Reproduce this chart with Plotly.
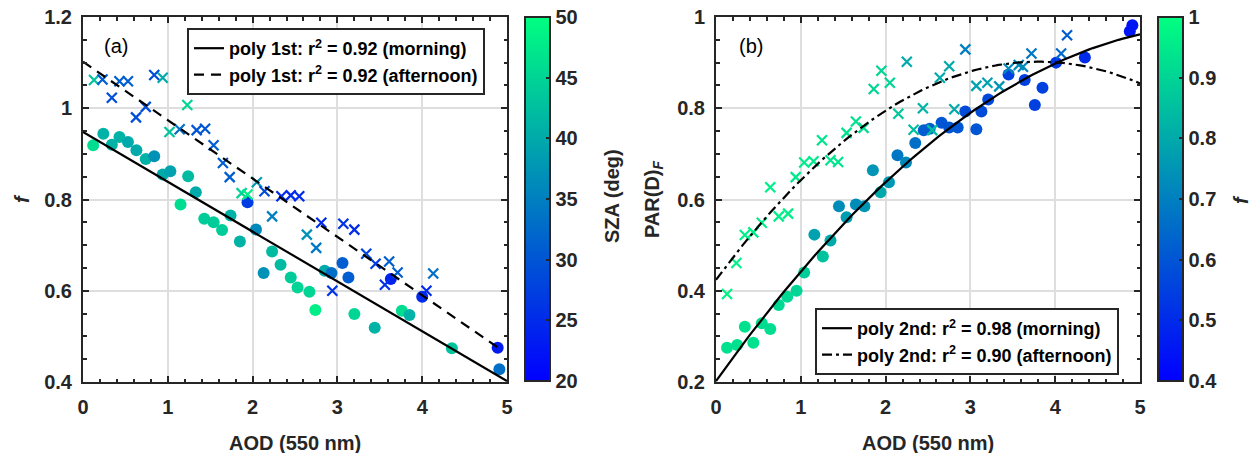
import numpy as np
import plotly.graph_objects as go

# ---------------- Panel (a): f versus AOD, coloured by SZA ----------------
a_morning_aod = [0.12, 0.24, 0.34, 0.43, 0.53, 0.63, 0.74, 0.84, 0.94, 1.03,
                 1.24, 1.33, 1.15, 1.43, 1.54, 1.64, 1.74, 1.85, 1.94, 2.04,
                 2.23, 2.13, 2.33, 2.45, 2.53, 2.67, 2.74, 2.85, 2.93, 3.06,
                 3.13, 3.20, 3.44, 3.63, 3.76, 3.85, 4.00, 4.35, 4.89, 4.91]
a_morning_f = [0.919, 0.944, 0.920, 0.937, 0.926, 0.908, 0.889, 0.895, 0.855, 0.862,
               0.851, 0.816, 0.789, 0.758, 0.750, 0.733, 0.765, 0.708, 0.794, 0.734,
               0.686, 0.639, 0.657, 0.629, 0.607, 0.598, 0.558, 0.644, 0.639, 0.661,
               0.629, 0.549, 0.519, 0.626, 0.556, 0.547, 0.587, 0.474, 0.475, 0.428]
a_morning_sza = [46, 41, 41, 41, 40, 40, 41, 37, 40, 39,
                 42, 40, 46, 44, 44, 44, 41, 41, 27, 36,
                 42, 37, 42, 44, 45, 45, 48, 40, 33, 31,
                 31, 45, 41, 24, 46, 41, 25, 43, 23, 33]

a_afternoon_aod = [0.13, 0.23, 0.34, 0.43, 0.53, 0.625, 0.74, 0.84, 0.94, 1.02,
                   1.14, 1.23, 1.34, 1.44, 1.54, 1.65, 1.73, 1.87, 1.94, 2.05,
                   2.14, 2.23, 2.34, 2.45, 2.55, 2.64, 2.75, 2.81, 2.94, 3.07,
                   3.20, 3.34, 3.45, 3.61, 3.56, 3.71, 4.05, 4.13]
a_afternoon_f = [1.062, 1.063, 1.023, 1.059, 1.059, 0.980, 1.003, 1.073, 1.067, 0.948,
                 0.954, 1.007, 0.952, 0.955, 0.919, 0.880, 0.849, 0.814, 0.811, 0.838,
                 0.818, 0.763, 0.807, 0.809, 0.807, 0.723, 0.694, 0.749, 0.600, 0.747,
                 0.734, 0.681, 0.659, 0.664, 0.613, 0.640, 0.600, 0.638]
a_afternoon_sza = [43, 31, 29, 31, 31, 29, 29, 29, 40, 43,
                   33, 45, 30, 30, 31, 31, 31, 45, 48, 38,
                   29, 35, 25, 25, 25, 37, 34, 25, 26, 26,
                   25, 28, 27, 31, 26, 31, 25, 33]

# first-order fits: [intercept, slope]
a_fit_morning = [0.948, -0.1092]
a_fit_afternoon = [1.102, -0.128]
a_fit_xmax = [5.0, 4.9]

# ---------------- Panel (b): PAR(D)_F versus AOD, coloured by f ----------------
b_morning_aod = [0.13, 0.25, 0.34, 0.44, 0.54, 0.64, 0.74, 0.84, 0.95, 1.04,
                 1.16, 1.26, 1.35, 1.45, 1.54, 1.65, 1.75, 1.85, 1.94, 2.04,
                 2.14, 2.24, 2.35, 2.45, 2.52, 2.66, 2.75, 2.85, 2.94, 3.07,
                 3.13, 3.21, 3.45, 3.64, 3.76, 3.85, 4.01, 4.35, 4.88, 4.91]
b_morning_par = [0.275, 0.281, 0.321, 0.286, 0.329, 0.316, 0.369, 0.387, 0.400, 0.440,
                 0.523, 0.475, 0.510, 0.585, 0.561, 0.589, 0.585, 0.664, 0.616, 0.638,
                 0.697, 0.681, 0.724, 0.752, 0.755, 0.768, 0.758, 0.758, 0.793, 0.754,
                 0.793, 0.819, 0.874, 0.862, 0.807, 0.845, 0.900, 0.911, 0.969, 0.982]
b_morning_f = [0.93, 0.93, 0.93, 0.93, 0.92, 0.92, 0.91, 0.91, 0.90, 0.88,
               0.78, 0.86, 0.80, 0.73, 0.77, 0.73, 0.75, 0.75, 0.80, 0.76,
               0.68, 0.72, 0.66, 0.62, 0.62, 0.60, 0.60, 0.60, 0.58, 0.60,
               0.58, 0.57, 0.55, 0.55, 0.55, 0.55, 0.53, 0.50, 0.45, 0.45]

b_afternoon_aod = [0.13, 0.24, 0.34, 0.44, 0.54, 0.64, 0.74, 0.85, 0.94, 1.04,
                   1.15, 1.25, 1.35, 1.44, 1.54, 1.65, 1.74, 1.86, 1.95, 2.05,
                   2.15, 2.25, 2.33, 2.44, 2.55, 2.64, 2.75, 2.81, 2.94, 3.07,
                   3.20, 3.34, 3.45, 3.57, 3.62, 3.72, 4.07, 4.14]
b_afternoon_par = [0.393, 0.461, 0.522, 0.528, 0.549, 0.627, 0.563, 0.569, 0.649, 0.681,
                   0.684, 0.730, 0.686, 0.682, 0.746, 0.771, 0.757, 0.842, 0.882, 0.856,
                   0.788, 0.902, 0.753, 0.800, 0.752, 0.867, 0.892, 0.798, 0.929, 0.849,
                   0.856, 0.848, 0.887, 0.895, 0.891, 0.920, 0.920, 0.960]
b_afternoon_f = [0.97, 0.97, 0.96, 0.96, 0.96, 0.96, 0.96, 0.96, 0.95, 0.95,
                 0.95, 0.94, 0.94, 0.94, 0.93, 0.93, 0.92, 0.90, 0.90, 0.90,
                 0.87, 0.80, 0.85, 0.82, 0.85, 0.80, 0.80, 0.80, 0.70, 0.78,
                 0.78, 0.75, 0.72, 0.72, 0.72, 0.68, 0.65, 0.62]

# second-order fits: [c0, c1, c2]
b_fit_morning = [0.202, 0.262, -0.022]
b_fit_afternoon = [0.424, 0.2516, -0.0331]

# ---------------- styling ----------------
WINTER = [[0.0, "rgb(0,0,255)"], [1.0, "rgb(0,255,128)"]]
FONT = "Liberation Sans, Arial, Helvetica, sans-serif"
INK = "#262626"
GRID = "#dedede"
W, H = 1258, 453

fig = go.Figure()


def scatter_pair(xa, ya, ca, xb, yb, cb, cmin, cmax, xref, yref, cbar):
    fig.add_trace(go.Scatter(
        x=xa, y=ya, mode="markers", xaxis=xref, yaxis=yref, showlegend=False,
        marker=dict(symbol="circle", size=12, color=ca, colorscale=WINTER,
                    cmin=cmin, cmax=cmax, line=dict(width=0),
                    showscale=True, colorbar=cbar),
    ))
    fig.add_trace(go.Scatter(
        x=xb, y=yb, mode="markers", xaxis=xref, yaxis=yref, showlegend=False,
        marker=dict(symbol="x-thin", size=10, color=cb, colorscale=WINTER,
                    cmin=cmin, cmax=cmax,
                    line=dict(width=2.2, color=cb, colorscale=WINTER,
                              cmin=cmin, cmax=cmax)),
    ))


def colorbar(x0px, ticks, labels):
    return dict(
        x=x0px / W, xanchor="left", xpad=0, ypad=0,
        y=1 - (17 + 381) / 2 / H, yanchor="middle",
        len=364 / H, lenmode="fraction", thickness=25, thicknessmode="pixels",
        outlinecolor=INK, outlinewidth=2,
        tickvals=ticks, ticktext=labels, ticks="inside", ticklen=5,
        tickcolor=INK, tickwidth=1.5,
        tickfont=dict(family=FONT, size=20, color=INK, weight="bold"),
    )


scatter_pair(a_morning_aod, a_morning_f, a_morning_sza,
             a_afternoon_aod, a_afternoon_f, a_afternoon_sza,
             20, 50, "x", "y",
             colorbar(525, [20, 25, 30, 35, 40, 45, 50],
                      ["20", "25", "30", "35", "40", "45", "50"]))
scatter_pair(b_morning_aod, b_morning_par, b_morning_f,
             b_afternoon_aod, b_afternoon_par, b_afternoon_f,
             0.4, 1.0, "x2", "y2",
             colorbar(1158, [0.4, 0.5, 0.6, 0.7, 0.8, 0.9, 1.0],
                      ["0.4", "0.5", "0.6", "0.7", "0.8", "0.9", "1"]))

# fitted lines
for coef, xmax, dash, name in [
        (a_fit_morning, a_fit_xmax[0], "solid", "poly 1st: r<sup>2</sup> = 0.92 (morning)"),
        (a_fit_afternoon, a_fit_xmax[1], "10px,7px", "poly 1st: r<sup>2</sup> = 0.92 (afternoon)")]:
    xs = np.linspace(0, xmax, 60)
    fig.add_trace(go.Scatter(x=xs, y=np.polyval(coef[::-1], xs), mode="lines",
                             line=dict(color="black", width=2.2, dash=dash),
                             name=name, legend="legend", legendgroup=name,
                             xaxis="x", yaxis="y"))

for coef, dash, name in [
        (b_fit_morning, "solid", "poly 2nd: r<sup>2</sup> = 0.98 (morning)"),
        (b_fit_afternoon, "10px,4px,3px,4px", "poly 2nd: r<sup>2</sup> = 0.90 (afternoon)")]:
    xs = np.linspace(0, 5, 100)
    fig.add_trace(go.Scatter(x=xs, y=np.polyval(coef[::-1], xs), mode="lines",
                             line=dict(color="black", width=2.2, dash=dash),
                             name=name, legend="legend2", legendgroup=name,
                             xaxis="x2", yaxis="y2"))

tickfont = dict(family=FONT, size=20, color=INK, weight="bold")


def xaxis(dom, anchor):
    return dict(domain=dom, anchor=anchor, range=[0, 5], dtick=1, tick0=0,
                showgrid=True, gridcolor=GRID, gridwidth=1.5, zeroline=False,
                showline=True, linecolor=INK, linewidth=2, mirror="allticks",
                ticks="inside", ticklen=6, tickwidth=1.5, tickcolor=INK,
                minor=dict(dtick=0.2, ticks="inside", ticklen=3.5, tickwidth=1.5,
                           tickcolor=INK, showgrid=False),
                tickfont=tickfont, ticklabelstandoff=6)


def yaxis(rng, anchor, vals, labels):
    return dict(domain=[1 - 382 / H, 1 - 17 / H], anchor=anchor, range=rng,
                tickmode="array", tickvals=vals, ticktext=labels,
                showgrid=True, gridcolor=GRID, gridwidth=1.5, zeroline=False,
                showline=True, linecolor=INK, linewidth=2, mirror="allticks",
                ticks="inside", ticklen=6, tickwidth=1.5, tickcolor=INK,
                minor=dict(dtick=0.05, tick0=0, ticks="inside", ticklen=3.5, tickwidth=1.5,
                           tickcolor=INK, showgrid=False),
                tickfont=tickfont, ticklabelstandoff=5)


legend_common = dict(bgcolor="white", bordercolor=INK, borderwidth=2,
                     font=dict(family=FONT, size=18, color="black", weight="bold"),
                     xanchor="left", yanchor="top", tracegroupgap=0,
                     traceorder="grouped", itemwidth=30)

fig.update_layout(
    width=W, height=H, autosize=False,
    margin=dict(l=0, r=0, t=0, b=0, autoexpand=False),
    paper_bgcolor="white", plot_bgcolor="white",
    xaxis=xaxis([83 / W, 507 / W], "y"),
    yaxis=yaxis([0.4, 1.2], "x", [0.4, 0.6, 0.8, 1.0, 1.2],
                ["0.4", "0.6", "0.8", "1", "1.2"]),
    xaxis2=xaxis([716 / W, 1140 / W], "y2"),
    yaxis2=yaxis([0.2, 1.0], "x2", [0.2, 0.4, 0.6, 0.8, 1.0],
                 ["0.2", "0.4", "0.6", "0.8", "1"]),
    legend=dict(x=187 / W, y=1 - 28 / H, **legend_common),
    legend2=dict(x=815 / W, y=1 - 308 / H, **legend_common),
)

title_font = dict(family=FONT, size=20, color=INK, weight="bold")
annotations = [
    dict(text="AOD (550 nm)", x=295 / W, y=1 - 443 / H, font=title_font),
    dict(text="AOD (550 nm)", x=928 / W, y=1 - 443 / H, font=title_font),
    dict(text="<i>f</i>", x=22 / W, y=1 - 199 / H, textangle=-90, font=title_font),
    dict(text="PAR(D)<sub><i>F</i></sub>", x=653 / W, y=1 - 199 / H, textangle=-90,
         font=title_font),
    dict(text="SZA (deg)", x=612 / W, y=1 - 196 / H, textangle=-90, font=title_font),
    dict(text="<i>f</i>", x=1241 / W, y=1 - 200 / H, textangle=-90, font=title_font),
    dict(text="(a)", x=116 / W, y=1 - 46 / H,
         font=dict(family=FONT, size=20, color="black")),
    dict(text="(b)", x=751 / W, y=1 - 46 / H,
         font=dict(family=FONT, size=20, color="black")),
]
for a in annotations:
    a.update(xref="paper", yref="paper", showarrow=False, xanchor="center", yanchor="middle")
fig.update_layout(annotations=annotations)

fig.write_html("out.html")
